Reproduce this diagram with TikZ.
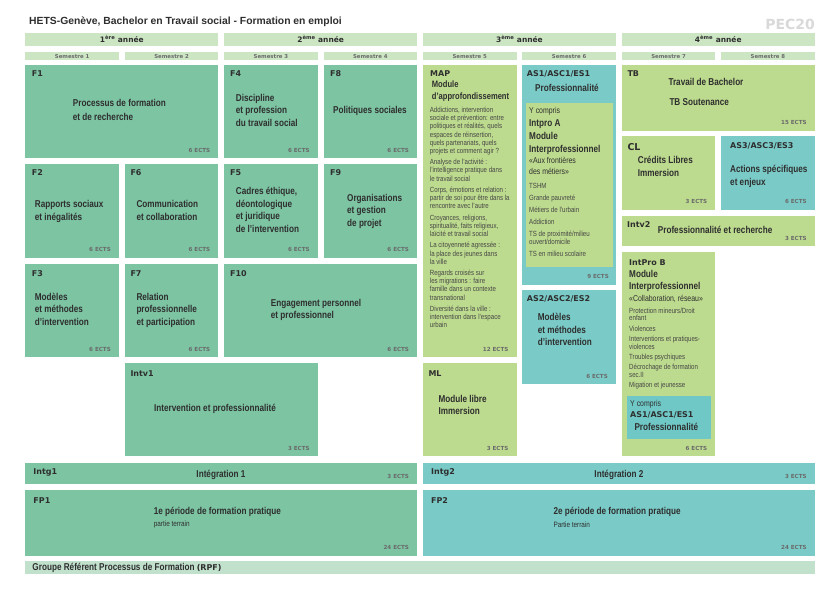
\documentclass[tikz,border=0pt]{standalone}
\usepackage{fontspec}
\setmainfont{Liberation Sans}
\newfontfamily\cf[FakeStretch=0.82]{Liberation Sans}
\newfontfamily\df{DejaVu Sans}
\definecolor{modgreen}{HTML}{7DC4A3}
\definecolor{lgreen}{HTML}{BDDB8F}
\definecolor{tealc}{HTML}{7ACBC8}
\definecolor{innerteal}{HTML}{6FC8C6}
\definecolor{hdr}{HTML}{CCE6C4}
\definecolor{rpfc}{HTML}{C1E1CD}
\definecolor{txt}{HTML}{2E2E2E}
\definecolor{bodyc}{HTML}{454545}
\definecolor{ectsc}{HTML}{6A6A6A}
\definecolor{pecc}{HTML}{D9D9D9}
\newcommand{\bxn}[6]{\node[bx, fill=#6, minimum width={(#4-#2)*1bp}, minimum height={(#5-#3)*1bp}] (#1) at (#2,#3) {};}
\newcommand{\ects}[2]{\node[ectst] (#1-e) at ([xshift=-8bp,yshift=6bp]#1.south east) {#2 ECTS};}
\newcommand{\ml}[1]{\begin{tabular}[t]{@{}l@{}}#1\end{tabular}}
\tikzset{
  bx/.style={inner sep=0pt, outer sep=0pt, draw=none, anchor=north west},
  codet/.style={font=\df\bfseries\fontsize{8}{9.6}\selectfont, text=txt, inner sep=0pt, anchor=base west},
  ttl/.style={font=\cf\bfseries\fontsize{10}{12.7}\selectfont, text=txt, inner sep=0pt, anchor=base west},
  ectst/.style={font=\df\bfseries\fontsize{5.6}{6.7}\selectfont, text=ectsc, inner sep=0pt, anchor=base east},
  smallt/.style={font=\cf\fontsize{7.5}{8.2}\selectfont, text=bodyc, inner sep=0pt, anchor=base west},
  subt/.style={font=\cf\fontsize{8.5}{11}\selectfont, text=txt, inner sep=0pt, anchor=base west},
  yeart/.style={font=\df\bfseries\fontsize{7.5}{9}\selectfont, text=txt, inner sep=0pt, anchor=base},
  semt/.style={font=\df\bfseries\fontsize{5.4}{6.5}\selectfont, text=ectsc, inner sep=0pt, anchor=base},
}
\begin{document}
\begin{tikzpicture}[x=1bp,y=-1bp]
\useasboundingbox (0,0) rectangle (840,594);
\fill[white] (0,0) rectangle (840,594);
% title
\node[font=\bfseries\fontsize{10.4}{12}\selectfont, text=txt, inner sep=0pt, anchor=base west] (title) at (29,25) {HETS-Genève, Bachelor en Travail social - Formation en emploi};
\node[font=\df\bfseries\fontsize{14}{16}\selectfont, text=pecc, inner sep=0pt, anchor=base east] (pec) at (815,30) {PEC20};
% year bands
\bxn{y1}{25.3}{33}{218.4}{46}{hdr}
\bxn{y2}{224.1}{33}{417.2}{46}{hdr}
\bxn{y3}{422.9}{33}{616.0}{46}{hdr}
\bxn{y4}{621.7}{33}{814.8}{46}{hdr}
\node[yeart] (y1t) at (121.85,42.6) {1\textsuperscript{ère} année};
\node[yeart] (y2t) at (320.65,42.6) {2\textsuperscript{ème} année};
\node[yeart] (y3t) at (519.45,42.6) {3\textsuperscript{ème} année};
\node[yeart] (y4t) at (718.25,42.6) {4\textsuperscript{ème} année};
% semesters
\bxn{s1}{25.3}{52.3}{119.0}{60}{hdr}
\bxn{s2}{124.7}{52.3}{218.4}{60}{hdr}
\bxn{s3}{224.1}{52.3}{317.8}{60}{hdr}
\bxn{s4}{323.5}{52.3}{417.2}{60}{hdr}
\bxn{s5}{422.9}{52.3}{516.6}{60}{hdr}
\bxn{s6}{522.3}{52.3}{616.0}{60}{hdr}
\bxn{s7}{621.7}{52.3}{715.4}{60}{hdr}
\bxn{s8}{721.1}{52.3}{814.8}{60}{hdr}
\node[semt] (s1t) at (72.15,58.2) {Semestre 1};
\node[semt] (s2t) at (171.55,58.2) {Semestre 2};
\node[semt] (s3t) at (270.95,58.2) {Semestre 3};
\node[semt] (s4t) at (370.35,58.2) {Semestre 4};
\node[semt] (s5t) at (469.75,58.2) {Semestre 5};
\node[semt] (s6t) at (569.15,58.2) {Semestre 6};
\node[semt] (s7t) at (668.55,58.2) {Semestre 7};
\node[semt] (s8t) at (767.95,58.2) {Semestre 8};
% ---- years 1-2 modules
\bxn{f1}{25.3}{65}{218.4}{158.3}{modgreen}
\bxn{f4}{224.1}{65}{317.8}{158.3}{modgreen}
\bxn{f8}{323.5}{65}{417.2}{158.3}{modgreen}
\bxn{f2}{25.3}{164.3}{119.0}{257.7}{modgreen}
\bxn{f6}{124.7}{164.3}{218.4}{257.7}{modgreen}
\bxn{f5}{224.1}{164.3}{317.8}{257.7}{modgreen}
\bxn{f9}{323.5}{164.3}{417.2}{257.7}{modgreen}
\bxn{f3}{25.3}{263.7}{119.0}{357}{modgreen}
\bxn{f7}{124.7}{263.7}{218.4}{357}{modgreen}
\bxn{f10}{224.1}{263.7}{417.2}{357}{modgreen}
\bxn{intv1}{124.7}{363}{317.8}{456.3}{modgreen}
\bxn{intg1}{25.3}{462.7}{417.2}{484}{modgreen}
\bxn{fp1}{25.3}{490}{417.2}{555.7}{modgreen}
\bxn{rpf}{25.3}{561.3}{814.8}{573.7}{rpfc}
% ---- years 3-4 modules
\bxn{map}{422.9}{65}{516.6}{357}{lgreen}
\bxn{as1}{522.3}{65}{616.0}{285}{tealc}
\bxn{as1in}{526}{102.7}{612.7}{266.7}{lgreen}
\bxn{as2}{522.3}{290}{616.0}{384.3}{tealc}
\bxn{ml}{422.9}{363}{516.6}{456.3}{lgreen}
\bxn{tb}{621.7}{65}{814.8}{130.7}{lgreen}
\bxn{cl}{621.7}{136.3}{715.4}{210}{lgreen}
\bxn{as3}{721.1}{136.3}{814.8}{210}{tealc}
\bxn{intv2}{621.7}{216}{814.8}{246}{lgreen}
\bxn{ipb}{621.7}{251.7}{715.4}{456.3}{lgreen}
\bxn{ipbin}{626.7}{395.7}{711}{439.3}{innerteal}
\bxn{intg2}{422.9}{462.7}{814.8}{484}{tealc}
\bxn{fp2}{422.9}{490}{814.8}{555.7}{tealc}
% ---- codes
\node[codet] (f1-c) at (31.7,76.2) {F1};
\node[codet] (f4-c) at (230,76.2) {F4};
\node[codet] (f8-c) at (330,76.2) {F8};
\node[codet] (f2-c) at (31.7,175.3) {F2};
\node[codet] (f6-c) at (130.3,175.3) {F6};
\node[codet] (f5-c) at (230,175.3) {F5};
\node[codet] (f9-c) at (330,175.3) {F9};
\node[codet] (f3-c) at (31.7,276.9) {F3};
\node[codet] (f7-c) at (130.3,276.9) {F7};
\node[codet] (f10-c) at (230,276.9) {F10};
\node[codet] (intv1-c) at (130.3,376.2) {Intv1};
\node[codet] (intg1-c) at (33.3,474.6) {Intg1};
\node[codet] (fp1-c) at (33.3,503.6) {FP1};
\node[codet] (map-c) at (430,76.9) {MAP};
\node[codet] (as1-c) at (526.7,76.9) {AS1/ASC1/ES1};
\node[codet] (tb-c) at (627.3,76.9) {TB};
\node[codet, font=\df\bfseries\fontsize{9.5}{11}\selectfont] (cl-c) at (627.3,150.2) {CL};
\node[codet] (as3-c) at (730,148.6) {AS3/ASC3/ES3};
\node[codet] (intv2-c) at (627,227.2) {Intv2};
\node[codet] (ipb-c) at (629,265.3) {IntPro B};
\node[codet] (ml-c) at (428.3,376.2) {ML};
\node[codet] (intg2-c) at (431,474.6) {Intg2};
\node[codet] (fp2-c) at (431,503.9) {FP2};
\node[codet] (as2-c) at (526.7,301.9) {AS2/ASC2/ES2};
\node[codet] (ipbin-c) at (630,417.2) {AS1/ASC1/ES1};
% ---- titles
\node[ttl] (f1-t) at (72.7,107) {\ml{Processus de formation\\[0.7bp]et de recherche}};
\node[ttl] (f4-t) at (235.7,101.3) {\ml{Discipline\\et profession\\du travail social}};
\node[ttl] (f8-t) at (333,113.6) {Politiques sociales};
\node[ttl] (f2-t) at (34.7,208) {\ml{Rapports sociaux\\et inégalités}};
\node[ttl] (f6-t) at (136.3,208) {\ml{Communication\\et collaboration}};
\node[ttl] (f5-t) at (235.7,194.6) {\ml{Cadres éthique,\\déontologique\\et juridique\\de l’intervention}};
\node[ttl] (f9-t) at (347,201.3) {\ml{Organisations\\et gestion\\de projet}};
\node[ttl] (f3-t) at (34.7,300) {\ml{Modèles\\et méthodes\\d’intervention}};
\node[ttl] (f7-t) at (136.3,300) {\ml{Relation\\professionnelle\\et participation}};
\node[ttl] (f10-t) at (270.7,306.3) {\ml{Engagement personnel\\et professionnel}};
\node[ttl] (intv1-t) at (154,411) {Intervention et professionnalité};
\node[ttl, anchor=base] (intg1-t) at (221,477) {Intégration 1};
\node[ttl] (fp1-t) at (153.7,514) {1e période de formation pratique};
\node[smallt, text=txt, font=\cf\fontsize{7.8}{9}\selectfont] (fp1-s) at (153.7,526.5) {partie terrain};
\node[ttl, anchor=base] (intg2-t) at (619,477) {Intégration 2};
\node[ttl] (fp2-t) at (553.3,514.7) {2e période de formation pratique};
\node[smallt, text=txt, font=\cf\fontsize{7.8}{9}\selectfont] (fp2-s) at (553.3,527.3) {Partie terrain};
\node[ttl] (ml-t) at (438.3,402) {\ml{Module libre\\Immersion}};
\node[ttl] (tb-t1) at (668.3,86) {Travail de Bachelor};
\node[ttl] (tb-t2) at (669.3,105.4) {TB Soutenance};
\node[ttl] (cl-t) at (637.7,163.6) {\ml{Crédits Libres\\Immersion}};
\node[ttl, font=\cf\bfseries\fontsize{10}{13.3}\selectfont] (as3-t) at (730,172.6) {\ml{Actions spécifiques\\et enjeux}};
\node[ttl] (intv2-t) at (657.7,234) {Professionnalité et recherche};
\node[ttl, anchor=base] (as1-t) at (567,92) {Professionnalité};
\node[ttl] (as2-t) at (537.7,320.4) {\ml{Modèles\\et méthodes\\d’intervention}};
% MAP
\node[ttl, font=\cf\fontsize{9.3}{11.6}\selectfont\bfseries] (map-t) at (431.7,88) {\ml{Module\\d’approfondissement}};
\node[smallt] (map-b) at (429.7,112.5) {\ml{Addictions, intervention\\sociale et prévention: entre\\politiques et réalités, quels\\espaces de réinsertion,\\quels partenariats, quels\\projets et comment agir ?\\[3.2bp]
Analyse de l’activité :\\l’intelligence pratique dans\\le travail social\\[3.2bp]
Corps, émotions et relation :\\partir de soi pour être dans la\\rencontre avec l’autre\\[3.2bp]
Croyances, religions,\\spiritualité, faits religieux,\\laïcité et travail social\\[3.2bp]
La citoyenneté agressée :\\la place des jeunes dans\\la ville\\[3.2bp]
Regards croisés sur\\les migrations : faire\\famille dans un contexte\\transnational\\[3.2bp]
Diversité dans la ville :\\intervention dans l’espace\\urbain}};
% AS1 inner
\node[subt] (as1in-y) at (529,113.5) {Y compris};
\node[ttl] (as1in-t) at (529,127) {\ml{Intpro A\\[-0.05bp]Module\\[-0.05bp]Interprofessionnel}};
\node[subt] (as1in-s) at (529,163.3) {\ml{«Aux frontières\\des métiers»}};
\node[smallt, font=\cf\fontsize{7.5}{8}\selectfont] (as1in-b) at (529,188.7) {\ml{TSHM\\[4bp]Grande pauvreté\\[4bp]Métiers de l’urbain\\[4bp]Addiction\\[4bp]TS de proximité/milieu\\ouvert/domicile\\[4bp]TS en milieu scolaire}};
% IntPro B
\node[ttl, font=\cf\bfseries\fontsize{10}{12.2}\selectfont] (ipb-t) at (629,277.6) {\ml{Module\\Interprofessionnel}};
\node[subt] (ipb-s) at (629,301) {«Collaboration, réseau»};
\node[smallt, font=\cf\fontsize{7.5}{7.7}\selectfont] (ipb-b) at (629,313.2) {\ml{Protection mineurs/Droit\\enfant\\[2.6bp]Violences\\[2.6bp]Interventions et pratiques-\\violences\\[2.6bp]Troubles psychiques\\[2.6bp]Décrochage de formation\\sec.II\\[2.6bp]Migation et jeunesse}};
\node[subt] (ipbin-y) at (630,406) {Y compris};
\node[ttl] (ipbin-t) at (634.3,430.3) {Professionnalité};
% RPF
\node[ttl] (rpf-t) at (32.3,570.5) {Groupe Référent Processus de Formation {\df\fontsize{8}{9}\selectfont(RPF)}};
% ---- ECTS
\ects{f1}{6}\ects{f4}{6}\ects{f8}{6}
\ects{f2}{6}\ects{f6}{6}\ects{f5}{6}\ects{f9}{6}
\ects{f3}{6}\ects{f7}{6}\ects{f10}{6}
\ects{intv1}{3}
\node[ectst] (intg1-e) at ([xshift=-8bp,yshift=5.5bp]intg1.south east) {3 ECTS};
\ects{fp1}{24}
\ects{map}{12}
\node[ectst] (as1-e) at ([xshift=-7bp]as1.south east |- 0,278) {9 ECTS};
\ects{as2}{6}
\ects{ml}{3}
\ects{tb}{15}
\ects{cl}{3}\ects{as3}{6}
\node[ectst] (intv2-e) at ([xshift=-8bp,yshift=5.7bp]intv2.south east) {3 ECTS};
\ects{ipb}{6}
\node[ectst] (intg2-e) at ([xshift=-8bp,yshift=5.5bp]intg2.south east) {3 ECTS};
\ects{fp2}{24}
\end{tikzpicture}
\end{document}
